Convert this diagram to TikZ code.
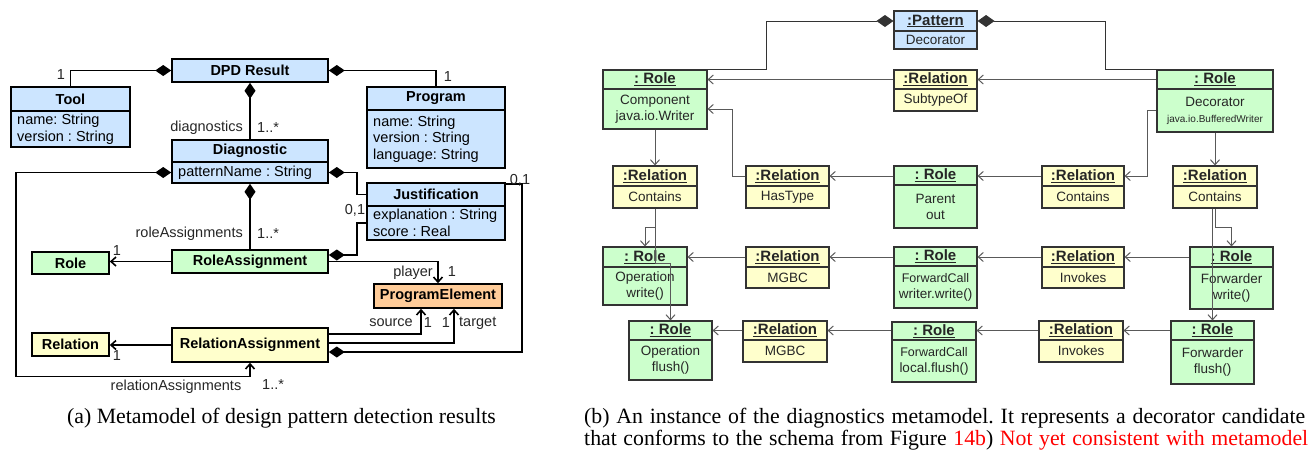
\documentclass[tikz,border=0pt]{standalone}
\usepackage{fontspec}
\setmainfont{Liberation Serif}
\setsansfont{Liberation Sans}
\usetikzlibrary{arrows.meta}
\frenchspacing

\definecolor{clsblue}{RGB}{204,229,255}
\definecolor{clsgreen}{RGB}{204,255,204}
\definecolor{clsyellow}{RGB}{255,255,204}
\definecolor{clsorange}{RGB}{255,204,153}
\definecolor{linkred}{RGB}{255,0,0}

% class box: name, fill, x1, y1, x2, y2, separator y, header, body
\newcommand\clsbox[9]{%
  \pgfmathsetmacro\bw{#5-#3}\pgfmathsetmacro\bh{#6-#4}%
  \node[cls, fill=#2, minimum width=\bw pt, minimum height=\bh pt] (#1) at ({(#3+#5)/2},{(#4+#6)/2}) {};
  \draw[cls] (#3,#7) -- (#5,#7);
  \node[cls head] (#1-h) at ({(#3+#5)/2},{(#4+#7)/2}) {#8};
  \node[cls body] (#1-b) at ({#3+6},{(#7+#6)/2}) {#9};
}
% class box with one compartment
\newcommand\clsplain[7]{%
  \pgfmathsetmacro\bw{#5-#3}\pgfmathsetmacro\bh{#6-#4}%
  \node[cls, cls head, draw, fill=#2, minimum width=\bw pt, minimum height=\bh pt] (#1) at ({(#3+#5)/2},{(#4+#6)/2}) {#7};
}
% object box: name, fill, x1, y1, x2, y2, separator y, header, body
\newcommand\objbox[9]{%
  \pgfmathsetmacro\bw{#5-#3}\pgfmathsetmacro\bh{#6-#4}%
  \node[obj, fill=#2, minimum width=\bw pt, minimum height=\bh pt] (#1) at ({(#3+#5)/2},{(#4+#6)/2}) {};
  \draw[obj] (#3,#7) -- (#5,#7);
  \node[obj head] (#1-h) at ({(#3+#5)/2},{(#4+#7)/2}) {\underline{#8}};
  \node[obj body] (#1-b) at ({(#3+#5)/2},{(#7+#6)/2}) {#9};
}

\begin{document}
\begin{tikzpicture}[x=1pt, y=-1pt, font=\sffamily\fontsize{14.5}{16.5}\selectfont,
    >={Straight Barb[length=5pt,width=9pt]},
    cls/.style={draw=black, line width=1.6pt, inner sep=0pt},
    cls head/.style={font=\sffamily\bfseries\fontsize{14.5}{16.5}\selectfont, inner sep=0pt},
    cls body/.style={anchor=west, align=left, inner sep=0pt},
    obj/.style={draw=black!80, line width=1.1pt, inner sep=0pt},
    obj head/.style={font=\sffamily\bfseries\fontsize{15}{17}\selectfont, text=black!85, inner sep=0pt},
    obj body/.style={align=center, font=\sffamily\fontsize{13.5}{16}\selectfont, text=black!85, inner sep=0pt},
    comp/.style={{Diamond[length=16pt,width=11pt]}-, line width=1.6pt},
    compnav/.style={{Diamond[length=16pt,width=11pt]}->, line width=1.6pt},
    nav/.style={->, line width=1.6pt},
    rcomp/.style={{Diamond[length=17pt,width=12pt]}-, line width=1pt, draw=black!80},
    rnav/.style={->, line width=1pt, draw=black!65},
    lbl/.style={inner sep=0pt, text=black!85},
    capt/.style={inner sep=0pt, font=\rmfamily\fontsize{21.8}{22}\selectfont}]
\useasboundingbox (0,0) rectangle (1314,453);

% (a) metamodel
\clsplain{dpd}{clsblue}{172}{59}{328}{82}{DPD Result}
\clsbox{tool}{clsblue}{11}{87}{130}{147}{111}{Tool}{name: String\\version : String}
\clsbox{prog}{clsblue}{367}{87}{505}{168}{110}{Program}{name: String\\version : String\\language: String}
\clsbox{diag}{clsblue}{172}{140}{328}{183}{162}{Diagnostic}{patternName : String}
\clsbox{just}{clsblue}{367}{183}{505}{240}{206}{Justification}{explanation : String\\score : Real}
\clsplain{roleas}{clsgreen}{172}{250}{328}{273}{RoleAssignment}
\clsplain{role}{clsgreen}{32}{252}{109}{274}{Role}
\clsplain{progel}{clsorange}{374}{284}{502}{308}{ProgramElement}
\clsplain{relas}{clsyellow}{172}{328}{328}{362}{RelationAssignment}
\clsplain{rel}{clsyellow}{32}{333}{109}{356}{Relation}

\draw[comp] (dpd.west) -| (tool.north);
\draw[comp] (dpd.east) -| (prog.north);
\draw[comp] (dpd.south) -- (diag.north);
\draw[comp] (diag.south) -- (roleas.north);
\draw[comp] (diag.east |- diag-b) -- ++(28,0) |- (just.west |- just-h);
\draw[comp] ([yshift=6.5pt]roleas.east) -- ++(28,0) |- (just.west |- just-b);
\draw[comp] ([yshift=-7pt]relas.east) -| ([xshift=16pt,yshift=-2pt]just.north east) -- ([yshift=-2pt]just.north east);
\draw[compnav] (diag.west |- diag-b) -- ++(-155,0) -- ++(0,204) -| (relas.south);
\draw[nav] (roleas.west) -- (roleas.west -| role.east);
\draw[nav] (relas.west) -- (relas.west -| rel.east);
\draw[nav] (roleas.east) -| (progel.north);
\draw[nav] ([yshift=11pt]relas.east) -| ([xshift=-17pt]progel.south);
\draw[nav] ([yshift=2pt]relas.east) -| ([xshift=16pt]progel.south);

\node[lbl] (m-tool) at (61,75) {1};
\node[lbl] (m-prog) at (448,77) {1};
\node[lbl, anchor=east] (r-diag) at (243,128) {diagnostics};
\node[lbl, anchor=west] (m-diag) at (257,128) {1..*};
\node[lbl] (m-just1) at (355,210) {0,1};
\node[lbl] (m-just2) at (520,180) {0,1};
\node[lbl, anchor=east] (r-roleas) at (243,234) {roleAssignments};
\node[lbl, anchor=west] (m-roleas) at (257,234) {1..*};
\node[lbl] (m-role) at (117,251) {1};
\node[lbl] (m-rel) at (117,356) {1};
\node[lbl, anchor=east] (r-player) at (433,273) {player};
\node[lbl] (m-player) at (452,272) {1};
\node[lbl, anchor=east] (r-source) at (413,323) {source};
\node[lbl] (m-source) at (428,323) {1};
\node[lbl] (m-target) at (446,323) {1};
\node[lbl, anchor=west] (r-target) at (459,323) {target};
\node[lbl] (r-relas) at (176,387) {relationAssignments};
\node[lbl, anchor=west] (m-relas) at (262,385) {1..*};

% (b) instance
\objbox{pat}{clsblue}{894}{11}{977}{49}{31}{:Pattern}{Decorator}
\objbox{rcomp}{clsgreen}{603}{70}{707}{129}{89}{: Role}{Component\\java.io.Writer}
\objbox{subof}{clsyellow}{894}{70}{977}{111}{89}{:Relation}{SubtypeOf}
\objbox{rdec}{clsgreen}{1157}{70}{1273}{132}{89}{: Role}{Decorator\\{\fontsize{10}{12}\selectfont java.io.BufferedWriter}}
\objbox{contl}{clsyellow}{613}{166}{697}{208}{186}{:Relation}{Contains}
\objbox{hast}{clsyellow}{746}{166}{829}{208}{186}{:Relation}{HasType}
\objbox{par}{clsgreen}{894}{166}{977}{228}{185}{: Role}{Parent\\out}
\objbox{contm}{clsyellow}{1042}{166}{1124}{208}{186}{:Relation}{Contains}
\objbox{contr}{clsyellow}{1173}{166}{1257}{208}{186}{:Relation}{Contains}
\objbox{opw}{clsgreen}{603}{247}{687}{305}{267}{: Role}{Operation\\write()}
\objbox{mg3}{clsyellow}{746}{247}{829}{288}{267}{:Relation}{MGBC}
\objbox{fwc3}{clsgreen}{894}{247}{977}{308}{266}{: Role}{\fontsize{12.5}{15}\selectfont ForwardCall\\writer.write()}
\objbox{inv3}{clsyellow}{1042}{247}{1124}{288}{267}{:Relation}{Invokes}
\objbox{fww}{clsgreen}{1190}{247}{1273}{309}{267}{: Role}{Forwarder\\write()}
\objbox{opf}{clsgreen}{629}{321}{712}{380}{340}{: Role}{Operation\\flush()}
\objbox{mg4}{clsyellow}{743}{321}{827}{362}{340}{:Relation}{MGBC}
\objbox{fwc4}{clsgreen}{892}{322}{976}{382}{340}{: Role}{\fontsize{12.5}{15}\selectfont ForwardCall\\local.flush()}
\objbox{inv4}{clsyellow}{1039}{321}{1123}{362}{340}{:Relation}{Invokes}
\objbox{fwf}{clsgreen}{1171}{321}{1254}{384}{340}{: Role}{Forwarder\\flush()}

\draw[rcomp] (pat.west |- pat-h) -| ([xshift=59pt]rcomp.north east) -- (rcomp.north east);
\draw[rcomp] (pat.east |- pat-h) -| ([xshift=-51pt]rdec.north west) -- (rdec.north);
\draw[rnav] (rdec.west |- subof-h) -- (subof.east |- subof-h);
\draw[rnav] (subof.west |- subof-h) -- (rcomp.east |- subof-h);
\draw[rnav] (rcomp.south) -- (contl.north);
\draw[rnav] (hast.west |- hast-h) -- ++(-13,0) |- (rcomp.east |- rcomp-b);
\draw[rnav] (par.west |- hast-h) -- (hast.east |- hast-h);
\draw[rnav] (contm.west |- contm-h) -- (par.east |- contm-h);
\draw[rnav] (rdec.west |- rdec-b) -- ++(-9,0) |- (contm.east |- contm-h);
\draw[rnav] (rdec.south) -- (contr.north);
\draw[rnav] (contl.south) -- ++(0,19) -| (opw.north);
\draw[rnav] (contl.south) -- ++(0,55) -| (opf.north);
\draw[rnav] (contr.south) -- ++(0,19) -| (fww.north);
\draw[rnav] (contr.south -| fwf.north) -- (fwf.north);
\draw[rnav] (fww.west |- inv3-h) -- (inv3.east |- inv3-h);
\draw[rnav] (inv3.west |- inv3-h) -- (fwc3.east |- inv3-h);
\draw[rnav] (fwc3.west |- mg3-h) -- (mg3.east |- mg3-h);
\draw[rnav] (mg3.west |- mg3-h) -- (opw.east |- mg3-h);
\draw[rnav] (fwf.west |- inv4-h) -- (inv4.east |- inv4-h);
\draw[rnav] (inv4.west |- inv4-h) -- (fwc4.east |- inv4-h);
\draw[rnav] (fwc4.west |- mg4-h) -- (mg4.east |- mg4-h);
\draw[rnav] (mg4.west |- mg4-h) -- (opf.east |- mg4-h);

% captions
\node[capt, anchor=west] (cap-a) at (67,418) {(a) Metamodel of design pattern detection results};
\node[capt, anchor=west] (cap-b1) at (584,418) {\makebox[721pt][s]{(b) An instance of the diagnostics metamodel. It represents a decorator candidate}};
\node[capt, anchor=west] (cap-b2) at (584,440) {\makebox[724pt][s]{that conforms to the schema from Figure \textcolor{linkred}{14b}) \textcolor{linkred}{Not yet consistent with metamodel}}};
\end{tikzpicture}
\end{document}
